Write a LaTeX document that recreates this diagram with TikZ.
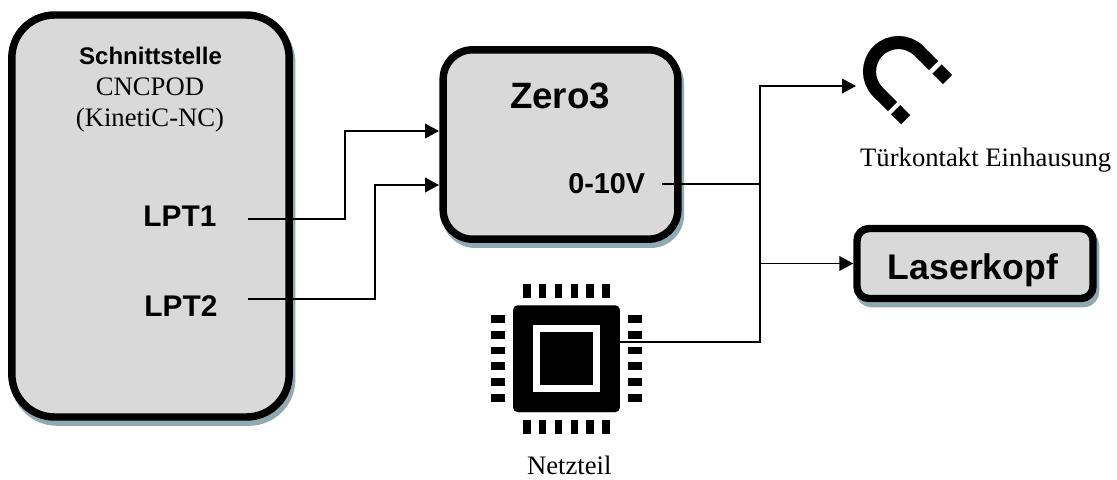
\documentclass[tikz,border=0pt]{standalone}
\usepackage{fontspec}
\setmainfont{Liberation Serif}
\setsansfont{Liberation Sans}
\usetikzlibrary{arrows.meta,shadows}
\definecolor{boxgray}{HTML}{D9D9D9}
\definecolor{shadowblue}{HTML}{8FAAB3}

\begin{document}
\begin{tikzpicture}[x=.75pt, y=-.75pt,
      box/.style={draw, line width=5.6pt, fill=boxgray, anchor=center, inner sep=0pt,
        drop shadow={shadow xshift=1.9pt, shadow yshift=-3.8pt, draw=shadowblue, fill=shadowblue, opacity=1}},
      head/.style={anchor=base, inner sep=0pt, font=\sffamily\bfseries\fontsize{#1}{#1}\selectfont},
      note/.style={anchor=base, inner sep=0pt, font=\fontsize{20}{20}\selectfont},
      ar/.style={-{Triangle[length=10.5pt, width=11pt]}, line width=1.35pt},
      wire/.style={line width=1.7pt}]
    \useasboundingbox (0,0) rectangle (1117,479);

    \node[box, rounded corners=32pt, minimum width=208pt, minimum height=301.5pt] (cnc) at (150.5,216) {};
    \node[box, rounded corners=22pt, minimum width=176pt, minimum height=142pt] (zero) at (560.5,144.5) {};
    \node[box, rounded corners=9pt, minimum width=177pt, minimum height=52.5pt] (laser) at (975,263.5) {};
    \node[draw, fill=black, rounded corners=3.5pt, line width=.1pt, inner sep=0pt, minimum width=80pt, minimum height=80pt, outer sep=0pt] (chip) at (566.5,358.7) {};
    \node[fill=white, inner sep=0pt, minimum width=50.7pt, minimum height=50.5pt] (chipframe) at (chip.center) {};
    \node[fill=black, inner sep=0pt, minimum width=39.2pt, minimum height=39.5pt] (chipcore) at (chip.center) {};

    \node[head=18] (title) at (150.5,64.3) {Schnittstelle};
    \node[note] (pod) at (150,95) {CNCPOD};
    \node[note] (kin) at (150,126) {(KinetiC-NC)};
    \node[head=22.4] (lptone) at (180,226.7) {LPT1};
    \node[head=22.4] (lpttwo) at (181,316) {LPT2};
    \node[head=27.5] (zerotxt) at (560,108.3) {Zero3};
    \node[head=21.6] (volt) at (606.7,193) {0-10V};
    \node[head=26.7] (lasertxt) at (973,279.3) {Laserkopf};
    \node[note] (door) at (985.7,166.7) {Türkontakt Einhausung};
    \node[note] (psu) at (569.2,474.5) {Netzteil};

    % chip pins
    \foreach \i in {0,...,5} {
      \fill ({522.8+15.9*\i},284) rectangle ++(7.7,14);
      \fill ({522.8+15.9*\i},420) rectangle ++(7.7,14);
      \fill (491,{315+15.8*\i}) rectangle ++(14.3,7.7);
      \fill (628,{315+15.8*\i}) rectangle ++(14.3,7.7);
    }

    % magnet
    \draw[line width=9.8pt] (933.5,65.5) -- (919,51) arc[start angle=-45, end angle=-225, radius=29] -- (892.5,106.5);
    \draw[line width=9.8pt] (937,69) -- (947.5,79.5);
    \draw[line width=9.8pt] (895.7,109.7) -- (905.7,119.7);

    \coordinate (lptoneout) at (248,219);
    \coordinate (lpttwoout) at (248,299);
    \coordinate (zeroinone) at (439,131);
    \coordinate (zerointwo) at (439,185);
    \coordinate (voltout) at (662,184);
    \coordinate (chipout) at (620,342);
    \coordinate (trunk) at (760,86);
    \coordinate (branch) at (760,263.5);
    \coordinate (magnetin) at (856,86);

    \draw[ar] (lptoneout) -- ++(97,0) |- (zeroinone);
    \draw[ar] (lpttwoout) -- ++(127,0) |- (zerointwo);
    \draw[wire] (voltout) -- (voltout -| trunk);
    \draw[ar] (chipout) -| (trunk) -- (magnetin);
    \draw[ar] (branch) -- (laser.west);
\end{tikzpicture}
\end{document}
